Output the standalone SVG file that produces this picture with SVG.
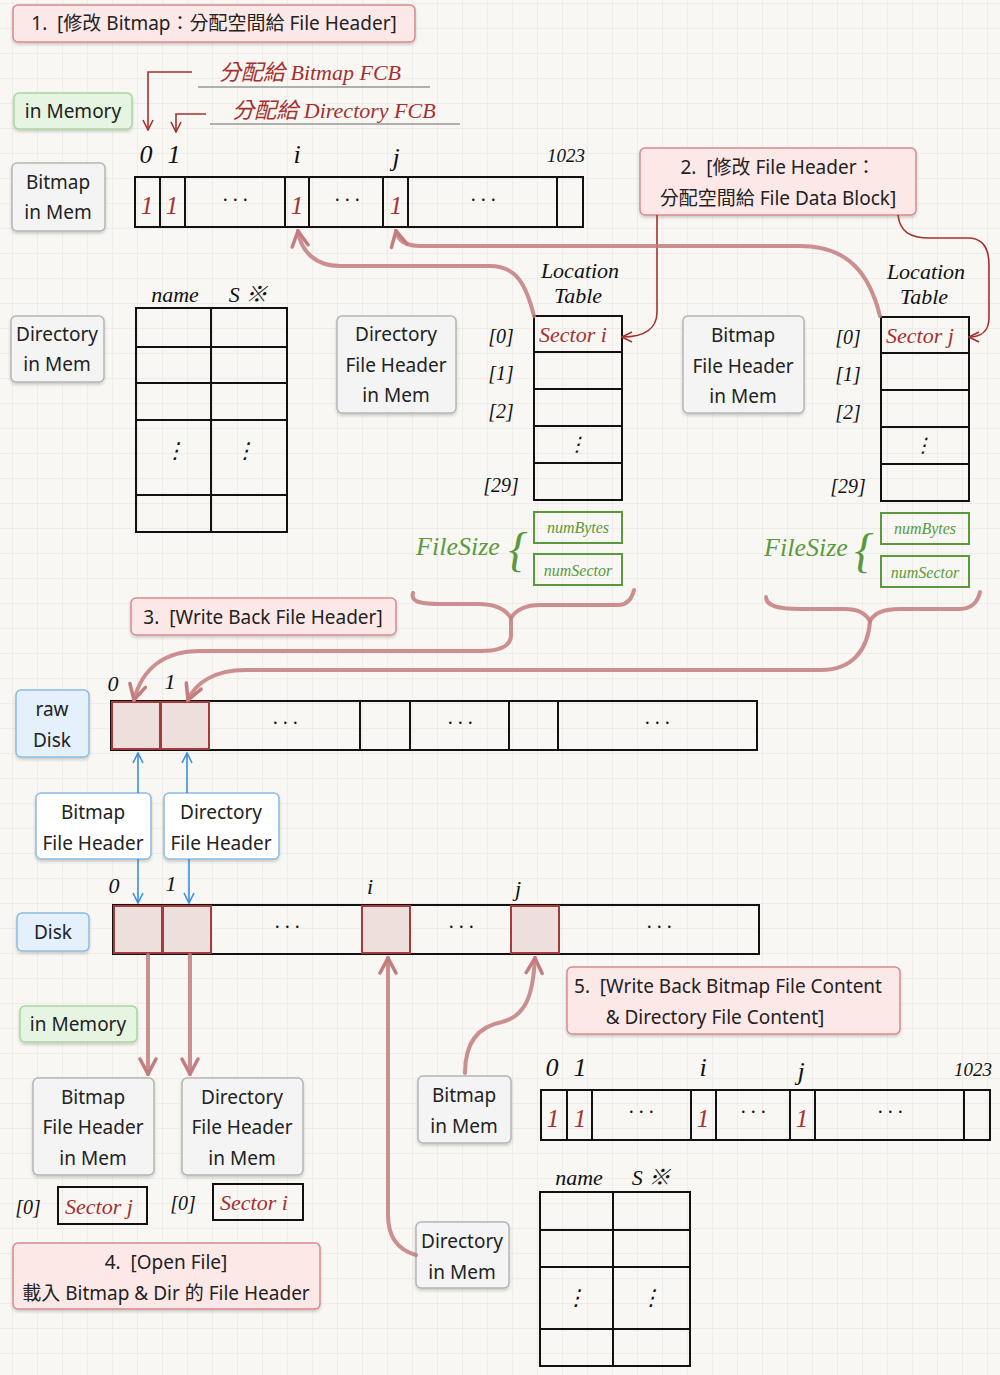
<svg xmlns="http://www.w3.org/2000/svg" width="1000" height="1375" viewBox="0 0 1000 1375">
<style>
.t{font-family:"Noto Sans","Noto Sans CJK TC",sans-serif;font-size:19px;fill:#222;text-anchor:middle;white-space:pre}
.h{font-family:"Liberation Serif","Noto Sans CJK TC",serif;font-style:italic;fill:#111;text-anchor:middle}
.hr{fill:#a5302f}
.hg{fill:#5a9a3c}
.pink{fill:#fde8e8;stroke:#d98a8e;stroke-width:1.5}
.gray{fill:#f4f4f4;stroke:#b5b5b5;stroke-width:1.5}
.green{fill:#e6f5e1;stroke:#a9d69f;stroke-width:1.5}
.blue{fill:#e4f1fc;stroke:#8cbbe3;stroke-width:1.5}
.cell{fill:none;stroke:#111;stroke-width:2}
.rc{fill:#ede0dc;stroke:#a53a3a;stroke-width:2}
.gb{fill:none;stroke:#5a9a3c;stroke-width:2}
.thick{fill:none;stroke:#c47c7e;stroke-opacity:.85;stroke-width:4;stroke-linecap:round}
.thin{fill:none;stroke:#a5302f;stroke-width:1.6}
.bl{fill:none;stroke:#3a8ee0;stroke-width:1.6}
</style>
<defs>
<pattern id="grid" width="25" height="25" patternUnits="userSpaceOnUse" x="12" y="3">
<path d="M25 0 L0 0 0 25" fill="none" stroke="#e4e4e1" stroke-width="1"/>
</pattern>
<filter id="sh" x="-10%" y="-10%" width="120%" height="130%">
<feDropShadow dx="0" dy="2" stdDeviation="1.5" flood-color="#000" flood-opacity="0.18"/>
</filter>
<marker id="mp" viewBox="0 0 20 20" refX="18" refY="10" markerWidth="20" markerHeight="20" markerUnits="userSpaceOnUse" orient="auto">
<path d="M3,2 L18,10 L3,18" fill="none" stroke="#c47c7e" stroke-width="3.5" stroke-linecap="round"/>
</marker>
<marker id="mr" viewBox="0 0 12 12" refX="11" refY="6" markerWidth="12" markerHeight="12" markerUnits="userSpaceOnUse" orient="auto">
<path d="M1,1 L11,6 L1,11" fill="none" stroke="#a5302f" stroke-width="1.6"/>
</marker>
<marker id="mb" viewBox="0 0 12 12" refX="11" refY="6" markerWidth="12" markerHeight="12" markerUnits="userSpaceOnUse" orient="auto">
<path d="M1,1 L11,6 L1,11" fill="none" stroke="#3a8ee0" stroke-width="1.6"/>
</marker>
</defs>
<rect width="1000" height="1375" fill="#f8f7f3"/>
<rect width="1000" height="1375" fill="url(#grid)"/>

<!-- step boxes -->
<g id="step1"><rect class="pink" x="13" y="5" width="402" height="37" rx="5" filter="url(#sh)"/><text class="t" x="214" y="30">1.  [修改 Bitmap：分配空間給 File Header]</text></g>
<g id="step2"><rect class="pink" x="640" y="148" width="276" height="67" rx="5" filter="url(#sh)"/><text class="t" x="778" y="174">2.  [修改 File Header：</text><text class="t" x="778" y="205">分配空間給 File Data Block]</text></g>
<g id="step3"><rect class="pink" x="131" y="598" width="265" height="37" rx="5" filter="url(#sh)"/><text class="t" x="263" y="624">3.  [Write Back File Header]</text></g>
<g id="step4"><rect class="pink" x="13" y="1243" width="307" height="66" rx="5" filter="url(#sh)"/><text class="t" x="166" y="1269">4.  [Open File]</text><text class="t" x="166" y="1300">載入 Bitmap &amp; Dir 的 File Header</text></g>
<g id="step5"><rect class="pink" x="567" y="967" width="333" height="67" rx="5" filter="url(#sh)"/><text class="t" x="728" y="993">5.  [Write Back Bitmap File Content</text><text class="t" x="715" y="1024">&amp; Directory File Content]</text></g>

<!-- label boxes -->
<g id="inMemory1"><rect class="green" x="14" y="93" width="118" height="36" rx="5" filter="url(#sh)"/><text class="t" x="73" y="118">in Memory</text></g>
<g id="bitmapInMem1"><rect class="gray" x="12" y="163" width="93" height="68" rx="5" filter="url(#sh)"/><text class="t" x="58" y="189">Bitmap</text><text class="t" x="58" y="219">in Mem</text></g>
<g id="dirInMem1"><rect class="gray" x="11" y="316" width="93" height="66" rx="5" filter="url(#sh)"/><text class="t" x="57" y="341">Directory</text><text class="t" x="57" y="371">in Mem</text></g>
<g id="dirFHInMem1"><rect class="gray" x="337" y="316" width="119" height="97" rx="5" filter="url(#sh)"/><text class="t" x="396" y="341">Directory</text><text class="t" x="396" y="372">File Header</text><text class="t" x="396" y="402">in Mem</text></g>
<g id="bmpFHInMem1"><rect class="gray" x="683" y="316" width="121" height="97" rx="5" filter="url(#sh)"/><text class="t" x="743" y="342">Bitmap</text><text class="t" x="743" y="373">File Header</text><text class="t" x="743" y="403">in Mem</text></g>
<g id="rawDisk"><rect class="blue" x="16" y="690" width="73" height="67" rx="5" filter="url(#sh)"/><text class="t" x="52" y="716">raw</text><text class="t" x="52" y="747">Disk</text></g>
<g id="bmpFH"><rect fill="#fff" stroke="#8cbbe3" stroke-width="1.5" x="36" y="793" width="115" height="66" rx="5" filter="url(#sh)"/><text class="t" x="93" y="819">Bitmap</text><text class="t" x="93" y="850">File Header</text></g>
<g id="dirFH"><rect fill="#fff" stroke="#8cbbe3" stroke-width="1.5" x="164" y="793" width="115" height="66" rx="5" filter="url(#sh)"/><text class="t" x="221" y="819">Directory</text><text class="t" x="221" y="850">File Header</text></g>
<g id="disk"><rect class="blue" x="17" y="913" width="72" height="38" rx="5" filter="url(#sh)"/><text class="t" x="53" y="939">Disk</text></g>
<g id="inMemory2"><rect class="green" x="20" y="1006" width="117" height="36" rx="5" filter="url(#sh)"/><text class="t" x="78" y="1031">in Memory</text></g>
<g id="bmpFHInMem2"><rect class="gray" x="33" y="1078" width="121" height="97" rx="5" filter="url(#sh)"/><text class="t" x="93" y="1104">Bitmap</text><text class="t" x="93" y="1134">File Header</text><text class="t" x="93" y="1165">in Mem</text></g>
<g id="dirFHInMem2"><rect class="gray" x="182" y="1078" width="121" height="97" rx="5" filter="url(#sh)"/><text class="t" x="242" y="1104">Directory</text><text class="t" x="242" y="1134">File Header</text><text class="t" x="242" y="1165">in Mem</text></g>
<g id="bitmapInMem2"><rect class="gray" x="418" y="1076" width="93" height="67" rx="5" filter="url(#sh)"/><text class="t" x="464" y="1102">Bitmap</text><text class="t" x="464" y="1133">in Mem</text></g>
<g id="dirInMem2"><rect class="gray" x="416" y="1222" width="93" height="66" rx="5" filter="url(#sh)"/><text class="t" x="462" y="1248">Directory</text><text class="t" x="462" y="1279">in Mem</text></g>

<!-- top bitmap -->
<g id="bitmapTop">
<rect class="cell" x="135" y="177" width="448" height="50"/>
<path class="cell" d="M160 177V227M185 177V227M285 177V227M309 177V227M383 177V227M408 177V227M557 177V227"/>
<g class="h hr" font-size="25" font-style="normal"><text x="147" y="214">1</text><text x="172" y="214">1</text><text x="297" y="214">1</text><text x="396" y="214">1</text></g>
<g class="h" font-size="20"><text x="235" y="207">· · ·</text><text x="347" y="207">· · ·</text><text x="483" y="207">· · ·</text></g>
<g class="h" font-size="26"><text x="146" y="163">0</text><text x="174" y="163">1</text><text x="297" y="163">i</text><text x="396" y="166">j</text></g>
<text class="h" font-size="19" x="566" y="162">1023</text>
</g>
<g id="fcbLabels">
<text class="h hr" font-size="22" x="310" y="80">分配給 Bitmap FCB</text>
<line x1="198" y1="87" x2="430" y2="87" stroke="#999" stroke-width="1.5"/>
<text class="h hr" font-size="22" x="334" y="118">分配給 Directory FCB</text>
<line x1="210" y1="124" x2="460" y2="124" stroke="#999" stroke-width="1.5"/>
</g>

<!-- top-left directory table -->
<g id="dirTable1">
<rect class="cell" x="136" y="308" width="151" height="224"/>
<path class="cell" d="M211 308V532M136 347H287M136 383H287M136 420H287M136 495H287"/>
<g class="h" font-size="22"><text x="175" y="458">⋮</text><text x="245" y="458">⋮</text></g>
<text class="h" font-size="22" x="175" y="302">name</text>
<text class="h" font-size="22" x="248" y="302">S ※</text>
</g>

<!-- location table 1 -->
<g id="locTable1">
<text class="h" font-size="22" x="580" y="278">Location</text>
<text class="h" font-size="22" x="578" y="303">Table</text>
<rect class="cell" x="534" y="316" width="88" height="184"/>
<path class="cell" d="M534 352H622M534 389H622M534 426H622M534 463H622"/>
<text class="h hr" font-size="22" x="573" y="342">Sector i</text>
<text class="h" font-size="20" x="577" y="451">⋮</text>
<g class="h" font-size="20"><text x="501" y="343">[0]</text><text x="501" y="380">[1]</text><text x="501" y="418">[2]</text><text x="501" y="492">[29]</text></g>
<rect class="gb" x="534" y="512" width="88" height="31"/>
<rect class="gb" x="534" y="554" width="88" height="31"/>
<g class="h hg" font-size="16"><text x="578" y="533">numBytes</text><text x="578" y="576">numSector</text></g>
<text class="h hg" font-size="26" x="458" y="555">FileSize</text>
<text class="h hg" font-size="48" x="518" y="566" font-style="normal" font-family="Liberation Sans, sans-serif">{</text>
</g>

<!-- location table 2 -->
<g id="locTable2">
<text class="h" font-size="22" x="926" y="279">Location</text>
<text class="h" font-size="22" x="924" y="304">Table</text>
<rect class="cell" x="881" y="317" width="88" height="184"/>
<path class="cell" d="M881 353H969M881 390H969M881 427H969M881 464H969"/>
<text class="h hr" font-size="22" x="920" y="343">Sector j</text>
<text class="h" font-size="20" x="923" y="452">⋮</text>
<g class="h" font-size="20"><text x="848" y="344">[0]</text><text x="848" y="381">[1]</text><text x="848" y="419">[2]</text><text x="848" y="493">[29]</text></g>
<rect class="gb" x="881" y="513" width="88" height="31"/>
<rect class="gb" x="881" y="556" width="88" height="31"/>
<g class="h hg" font-size="16"><text x="925" y="534">numBytes</text><text x="925" y="578">numSector</text></g>
<text class="h hg" font-size="26" x="806" y="556">FileSize</text>
<text class="h hg" font-size="48" x="864" y="567" font-style="normal" font-family="Liberation Sans, sans-serif">{</text>
</g>

<!-- raw disk row -->
<g id="rawDiskRow">
<rect class="cell" x="111" y="701" width="646" height="49"/>
<rect class="rc" x="112" y="702" width="48" height="47"/>
<rect class="rc" x="161" y="702" width="48" height="47"/>
<path class="cell" d="M360 701V750M410 701V750M509 701V750M558 701V750"/>
<g class="h" font-size="20"><text x="285" y="730">· · ·</text><text x="460" y="730">· · ·</text><text x="657" y="730">· · ·</text></g>
<g class="h" font-size="22"><text x="113" y="691">0</text><text x="170" y="689">1</text></g>
</g>

<!-- disk row -->
<g id="diskRow">
<rect class="cell" x="113" y="905" width="646" height="49"/>
<rect class="rc" x="114" y="906" width="48" height="47"/>
<rect class="rc" x="163" y="906" width="48" height="47"/>
<rect class="rc" x="362" y="906" width="48" height="47"/>
<rect class="rc" x="511" y="906" width="48" height="47"/>
<g class="h" font-size="20"><text x="287" y="934">· · ·</text><text x="461" y="934">· · ·</text><text x="659" y="934">· · ·</text></g>
<g class="h" font-size="22"><text x="114" y="893">0</text><text x="171" y="891">1</text><text x="370" y="894">i</text><text x="518" y="896">j</text></g>
</g>

<!-- bottom-left sector boxes -->
<g id="sectorBoxes">
<g class="h" font-size="20"><text x="28" y="1214">[0]</text><text x="183" y="1210">[0]</text></g>
<rect class="cell" x="58" y="1187" width="89" height="37"/>
<rect class="cell" x="213" y="1184" width="90" height="36"/>
<text class="h hr" font-size="22" x="99" y="1214">Sector j</text>
<text class="h hr" font-size="22" x="254" y="1210">Sector i</text>
</g>

<!-- bottom bitmap -->
<g id="bitmapBottom">
<rect class="cell" x="541" y="1090" width="449" height="50"/>
<path class="cell" d="M567 1090V1140M592 1090V1140M691 1090V1140M716 1090V1140M790 1090V1140M815 1090V1140M964 1090V1140"/>
<g class="h hr" font-size="25" font-style="normal"><text x="553" y="1127">1</text><text x="580" y="1127">1</text><text x="703" y="1127">1</text><text x="802" y="1127">1</text></g>
<g class="h" font-size="20"><text x="641" y="1119">· · ·</text><text x="753" y="1119">· · ·</text><text x="890" y="1119">· · ·</text></g>
<g class="h" font-size="26"><text x="552" y="1076">0</text><text x="580" y="1076">1</text><text x="703" y="1076">i</text><text x="801" y="1080">j</text></g>
<text class="h" font-size="19" x="973" y="1076">1023</text>
</g>

<!-- bottom directory table -->
<g id="dirTable2">
<rect class="cell" x="540" y="1192" width="150" height="174"/>
<path class="cell" d="M613 1192V1366M540 1230H690M540 1267H690M540 1329H690"/>
<g class="h" font-size="22"><text x="576" y="1305">⋮</text><text x="651" y="1305">⋮</text></g>
<text class="h" font-size="22" x="579" y="1185">name</text>
<text class="h" font-size="22" x="651" y="1185">S ※</text>
</g>

<!-- connectors -->
<g id="connectors">
<path class="thin" d="M192 72H148V130" marker-end="url(#mr)"/>
<path class="thin" d="M206 114H176V132" marker-end="url(#mr)"/>
<path class="thin" d="M657 215V312C657 328 645 337 622 337" marker-end="url(#mr)"/>
<path class="thin" d="M898 215C900 232 910 238 930 238H968C983 238 989 248 989 265V318C989 330 982 337 969 337" marker-end="url(#mr)"/>
<path class="thick" d="M534 316C526 284 516 266 490 266H340C316 266 301 252 298 231" marker-end="url(#mp)"/>
<path class="thick" d="M880 316C870 276 850 246 800 246H420C405 246 398 240 396 231" marker-end="url(#mp)"/>
<path class="thick" d="M413 593C410 603 425 604 440 604H478C496 604 506 610 511 618C516 610 524 605 540 605H618C628 605 632 598 634 590"/>
<path class="thick" d="M511 618V635C511 646 500 651 481 651H200C165 651 142 668 134 700" marker-end="url(#mp)"/>
<path class="thick" d="M766 597C766 606 778 609 800 609H845C858 609 866 614 870 621C874 613 884 609 900 609H960C972 609 978 601 980 592"/>
<path class="thick" d="M870 621C868 650 852 670 821 670H245C215 670 195 683 188 700" marker-end="url(#mp)"/>
<path class="bl" d="M138 793V753" marker-end="url(#mb)"/>
<path class="bl" d="M187 793V753" marker-end="url(#mb)"/>
<path class="bl" d="M138 859V903" marker-end="url(#mb)"/>
<path class="bl" d="M189 859V903" marker-end="url(#mb)"/>
<path class="thick" d="M148 955V1074" marker-end="url(#mp)"/>
<path class="thick" d="M190 955V1074" marker-end="url(#mp)"/>
<path class="thick" d="M416 1255C398 1250 388 1238 388 1215V958" marker-end="url(#mp)"/>
<path class="thick" d="M465 1073C465 1040 480 1026 502 1022C526 1016 533 995 535 958" marker-end="url(#mp)"/>
</g>
</svg>
